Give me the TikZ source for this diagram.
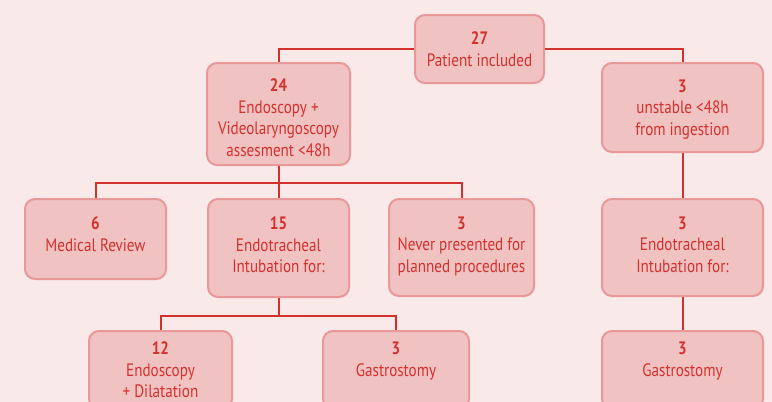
\documentclass[tikz,border=0pt]{standalone}
\usepackage{fontspec}
\setmainfont{PT Sans}[FakeStretch=0.84]
\usetikzlibrary{positioning}
\definecolor{flowbg}{HTML}{FAE9E9}
\definecolor{flowfill}{HTML}{F1C2C2}
\definecolor{flowedge}{HTML}{E89898}
\definecolor{flowred}{HTML}{D2322D}
\newcommand{\toppad}[1]{\rule{0pt}{#1}}
\newcommand{\botpad}[1]{\rule[-#1]{0pt}{#1}}

\begin{document}
\begin{tikzpicture}[x=1pt, y=-1pt,
      box/.style={draw=flowedge, line width=2pt, fill=flowfill, rounded corners=10pt, align=center, text=flowred, font=\fontsize{18}{21.5}\selectfont, inner sep=2pt},
      link/.style={flowred, line width=2pt}
    ]
      \fill[flowbg] (0,0) rectangle (772,402);
      \clip (0,0) rectangle (772,402);
      % top level
      \node[box, minimum width=129pt, minimum height=68pt] (p27) at (479.5,49) {\textbf{27}\\Patient included};
      \node[box, minimum width=143pt, minimum height=102pt] (e24) at (278.5,114) {\toppad{20pt}\textbf{24}\\Endoscopy +\\Videolaryngoscopy\\assesment <48h};
      \node[box, minimum width=161pt, minimum height=89pt] (u3) at (682.5,107.5) {\toppad{16pt}\textbf{3}\\unstable <48h\\from ingestion};
      % second level
      \node[box, minimum width=141pt, minimum height=80pt, below=32pt of e24, xshift=-183pt] (m6) {\textbf{6}\\Medical Review\botpad{10pt}};
      \node[box, minimum width=141pt, minimum height=98pt, below=32pt of e24] (i15) {\textbf{15}\\Endotracheal\\Intubation for:\botpad{6pt}};
      \node[box, minimum width=145pt, minimum height=97pt, below=32pt of e24, xshift=183pt] (n3) {\textbf{3}\\Never presented for\\planned procedures\botpad{6pt}};
      \node[box, minimum width=161pt, minimum height=97pt, below=45pt of u3] (t3) {\textbf{3}\\Endotracheal\\Intubation for:\botpad{6pt}};
      % third level
      \node[box, minimum width=143pt, minimum height=78pt, below=32pt of i15, xshift=-118pt] (d12) {\textbf{12}\\Endoscopy\\+ Dilatation};
      \node[box, minimum width=146pt, minimum height=78pt, below=32pt of i15, xshift=117.5pt] (g3) {\textbf{3}\\Gastrostomy\\~};
      \node[box, minimum width=161pt, minimum height=78pt, below=33pt of t3] (g3r) {\textbf{3}\\Gastrostomy\\~};
      % connectors
      \coordinate (b24) at ([yshift=-17pt]e24.south);
      \coordinate (b15) at ([yshift=-18pt]i15.south);
      \draw[link] (p27.west) -| (e24.north);
      \draw[link] (p27.east) -| (u3.north);
      \draw[link] (e24.south) -- (i15.north);
      \draw[link] (b24) -| (m6.north);
      \draw[link] (b24) -| (n3.north);
      \draw[link] (u3) -- (t3);
      \draw[link] (t3) -- (g3r);
      \draw[link] (i15.south) -- (b15);
      \draw[link] (b15) -| (d12.north);
      \draw[link] (b15) -| (g3.north);
    \end{tikzpicture}
\end{document}
